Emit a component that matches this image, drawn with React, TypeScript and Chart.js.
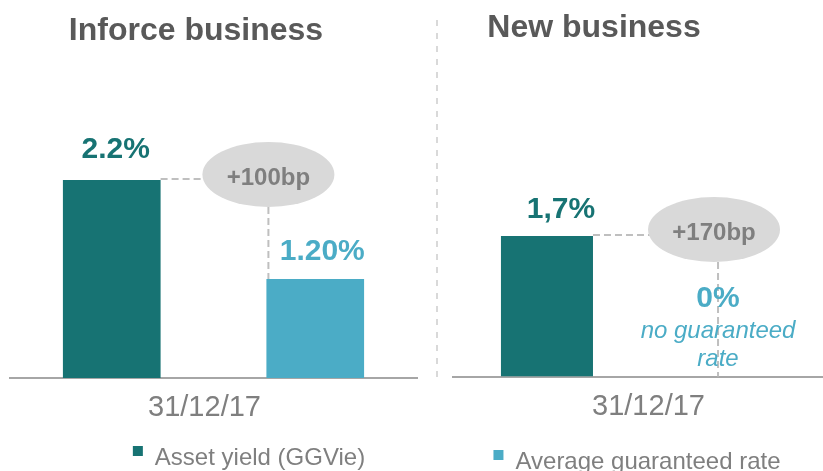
import React, { useEffect, useRef } from "react";
import { Chart, registerables } from "chart.js";

Chart.register(...registerables);

const FONT = '"Liberation Sans", Arial, Helvetica, sans-serif';

// ---- data ----
const categories = ["31/12/17"];
const seriesNames = ["Asset yield (GGVie)", "Average guaranteed rate"];
const panelTitles = ["Inforce business", "New business"];
const inforceValues = [2.2, 1.2];
const newBusinessValues = [1.7, 0];
const inforceValueLabels = ["2.2%", "1.20%"];
const newBusinessValueLabels = ["1,7%", "0%"];
const spreadLabels = ["+100bp", "+170bp"];
const newBusinessNote = ["no guaranteed", "rate"];

// ---- styles ----
const TEAL = "#177373";
const BLUE = "#4BACC6";
const GREY_TEXT = "#7F7F7F";
const TITLE_GREY = "#595959";
const BUBBLE = "#D9D9D9";
const DASH = "#BFBFBF";
const AXIS = "#A6A6A6";

type PanelCfg = {
  key: string;
  title: string;
  titleX: number;
  titleY: number;
  legendIndex: number;
  legendCenter: number;
  legendBaseline: number;
  left: boolean;
};

function drawLegend(ctx: CanvasRenderingContext2D, chart: any, cfg: PanelCfg) {
  const ds = chart.data.datasets[cfg.legendIndex];
  ctx.font = `24px ${FONT}`;
  const tw = ctx.measureText(ds.label).width;
  const box = 10;
  const total = box + 12 + tw;
  const x0 = cfg.legendCenter - total / 2;
  ctx.fillStyle = ds.backgroundColor;
  ctx.fillRect(x0, cfg.legendBaseline - 19, box, box);
  ctx.fillStyle = GREY_TEXT;
  ctx.textAlign = "left";
  ctx.textBaseline = "alphabetic";
  ctx.fillText(ds.label, x0 + box + 12, cfg.legendBaseline);
}

function makeOverlay(cfg: PanelCfg, valueLabels: string[], spread: string) {
  return {
    id: "overlay_" + cfg.key,
    afterDraw(chart: any) {
      const ctx: CanvasRenderingContext2D = chart.ctx;
      const area = chart.chartArea;
      const b0: any = chart.getDatasetMeta(0).data[0];
      const b1: any = chart.getDatasetMeta(1).data[0];
      ctx.save();

      // title
      ctx.font = `bold 32px ${FONT}`;
      ctx.fillStyle = TITLE_GREY;
      ctx.textAlign = "center";
      ctx.textBaseline = "alphabetic";
      ctx.fillText(cfg.title, cfg.titleX, cfg.titleY);

      if (cfg.left) {
        // divider between panels
        ctx.beginPath();
        ctx.setLineDash([6, 7]);
        ctx.strokeStyle = BUBBLE;
        ctx.lineWidth = 2;
        ctx.moveTo(437, 20);
        ctx.lineTo(437, area.bottom);
        ctx.stroke();
      } else {
        // axis line continues to the edge
        const yb = Math.round(area.bottom);
        ctx.beginPath();
        ctx.setLineDash([]);
        ctx.strokeStyle = AXIS;
        ctx.lineWidth = 2;
        ctx.moveTo(area.right - 1, yb);
        ctx.lineTo(chart.width, yb);
        ctx.stroke();
      }

      const rx = 66;
      const ry = 32.5;
      let ex: number, ey: number, vx: number, vEnd: number;
      if (cfg.left) {
        ex = b1.x - b1.width / 2 + 2;
        ey = b0.y - 5.5;
        vx = ex;
        vEnd = b1.y;
      } else {
        ex = b1.x - 4;
        ey = b0.y - 6.5;
        vx = b1.x;
        vEnd = area.bottom;
      }

      // connectors
      ctx.setLineDash([7, 4]);
      ctx.strokeStyle = DASH;
      ctx.lineWidth = 2;
      ctx.beginPath();
      ctx.moveTo(b0.x + b0.width / 2, b0.y - 1);
      ctx.lineTo(ex - rx + 2, b0.y - 1);
      ctx.stroke();
      ctx.beginPath();
      ctx.moveTo(vx, ey + ry);
      ctx.lineTo(vx, vEnd);
      ctx.stroke();
      ctx.setLineDash([]);

      // bubble
      ctx.beginPath();
      ctx.ellipse(ex, ey, rx, ry, 0, 0, Math.PI * 2);
      ctx.fillStyle = BUBBLE;
      ctx.fill();
      ctx.font = `bold 24px ${FONT}`;
      ctx.fillStyle = GREY_TEXT;
      ctx.textAlign = "center";
      ctx.fillText(spread, ex, ey + 10);

      // value labels
      ctx.font = `bold 30px ${FONT}`;
      if (cfg.left) {
        ctx.fillStyle = TEAL;
        ctx.fillText(valueLabels[0], b0.x + 4, b0.y - 22);
        ctx.fillStyle = BLUE;
        ctx.fillText(valueLabels[1], b1.x + 7, b1.y - 19);
      } else {
        ctx.fillStyle = TEAL;
        ctx.fillText(valueLabels[0], b0.x + 14, b0.y - 18);
        ctx.fillStyle = BLUE;
        ctx.fillText(valueLabels[1], b1.x, area.bottom - 70);
        ctx.font = `italic 24px ${FONT}`;
        ctx.fillText(newBusinessNote[0], b1.x, area.bottom - 38.5);
        ctx.fillText(newBusinessNote[1], b1.x, area.bottom - 10.5);
      }

      drawLegend(ctx, chart, cfg);
      ctx.restore();
    },
  };
}

function buildConfig(
  values: number[],
  valueLabels: string[],
  spread: string,
  cfg: PanelCfg,
  yMin: number,
  yMax: number,
  padding: any,
  catPct: number,
  barPct: number,
  labelOffset: number
): any {
  return {
    type: "bar",
    data: {
      labels: categories,
      datasets: [
        {
          label: seriesNames[0],
          data: [values[0]],
          backgroundColor: TEAL,
          borderWidth: 0,
          categoryPercentage: catPct,
          barPercentage: barPct,
        },
        {
          label: seriesNames[1],
          data: [values[1]],
          backgroundColor: BLUE,
          borderWidth: 0,
          categoryPercentage: catPct,
          barPercentage: barPct,
        },
      ],
    },
    options: {
      responsive: false,
      animation: false,
      layout: { padding },
      plugins: {
        legend: { display: false },
        title: { display: false },
        tooltip: { enabled: false },
      },
      scales: {
        x: {
          grid: { display: false, drawTicks: false },
          border: { display: true, color: AXIS, width: 2 },
          ticks: {
            color: GREY_TEXT,
            font: { family: FONT, size: 29 },
            padding: 13,
            labelOffset,
          },
        },
        y: {
          display: false,
          min: yMin,
          max: yMax,
        },
      },
    },
    plugins: [makeOverlay(cfg, valueLabels, spread)],
  };
}

function Panel(props: { config: any; width: number; left: number }) {
  const ref = useRef<HTMLCanvasElement | null>(null);
  useEffect(() => {
    if (!ref.current) return;
    const chart = new Chart(ref.current, props.config);
    return () => chart.destroy();
  }, []);
  return (
    <canvas
      ref={ref}
      width={props.width}
      height={471}
      style={{ position: "absolute", left: props.left, top: 0, display: "block" }}
    />
  );
}

export default function App() {
  const leftCfg: PanelCfg = {
    key: "inforce",
    title: panelTitles[0],
    titleX: 196,
    titleY: 40,
    legendIndex: 0,
    legendCenter: 249,
    legendBaseline: 465,
    left: true,
  };
  const rightCfg: PanelCfg = {
    key: "new",
    title: panelTitles[1],
    titleX: 154,
    titleY: 37,
    legendIndex: 1,
    legendCenter: 197,
    legendBaseline: 469,
    left: false,
  };
  const leftConfig = buildConfig(
    inforceValues,
    inforceValueLabels,
    spreadLabels[0],
    leftCfg,
    0.2,
    3.4,
    { left: 10, right: 23, top: 61.2, bottom: 32.2 },
    1.0,
    0.48,
    -9
  );
  const rightConfig = buildConfig(
    newBusinessValues,
    newBusinessValueLabels,
    spreadLabels[1],
    rightCfg,
    0,
    3.0,
    { left: 13, right: 11, top: 128.6, bottom: 33.7 },
    0.953,
    0.538,
    16
  );
  return (
    <div
      style={{
        position: "absolute",
        left: 0,
        top: 0,
        width: 823,
        height: 471,
        background: "#ffffff",
        overflow: "hidden",
      }}
    >
      <Panel config={leftConfig} width={440} left={0} />
      <Panel config={rightConfig} width={383} left={440} />
    </div>
  );
}
